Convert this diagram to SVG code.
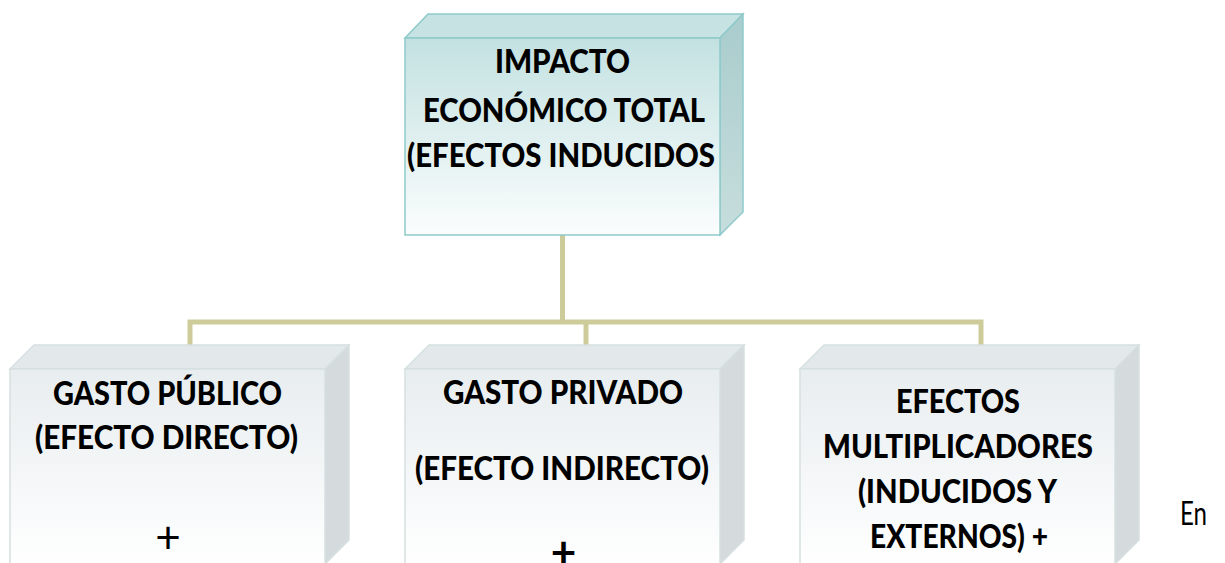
<svg xmlns="http://www.w3.org/2000/svg" width="1225" height="563" viewBox="0 0 1225 563">
<defs>
<linearGradient id="gTop" x1="0" y1="0" x2="0" y2="1">
<stop offset="0" stop-color="#c3e1e1"/><stop offset="1" stop-color="#fbfdfd"/>
</linearGradient>
<linearGradient id="gTopSide" x1="0" y1="0" x2="0" y2="1">
<stop offset="0" stop-color="#a9cccc"/><stop offset="1" stop-color="#c7dddd"/>
</linearGradient>
<linearGradient id="gBot" x1="0" y1="0" x2="0" y2="1">
<stop offset="0" stop-color="#e8edef"/><stop offset="1" stop-color="#ffffff"/>
</linearGradient>
<style>
.conn{fill:none;stroke:#cecb9b;stroke-width:5}
.tf{fill:url(#gTop);stroke:#8ecaca;stroke-width:1.5}
.tt{fill:#c6e2e2;stroke:#8ecaca;stroke-width:1.5}
.ts{fill:url(#gTopSide);stroke:#8ecaca;stroke-width:1.5}
.bf{fill:url(#gBot);stroke:#d6e0e0;stroke-width:1.5}
.bt{fill:#e3e9ea;stroke:#d6e0e0;stroke-width:1.5}
.bs{fill:#d5dbdc;stroke:#d6e0e0;stroke-width:1.5}
.lbl{font-family:Lato,"Open Sans","Liberation Sans",sans-serif;font-weight:900;font-size:33px;fill:#000;text-anchor:middle}
.plain{font-family:Lato,"Open Sans","Liberation Sans",sans-serif;font-size:33px;fill:#000}
.plus{font-family:Lato,"Open Sans","Liberation Sans",sans-serif;font-size:44px;fill:#000;text-anchor:middle}
</style>
</defs>
<rect width="1225" height="563" fill="#ffffff"/>
<g id="connectors">
<path class="conn" d="M562.5 235 V322 M190 346 V322 H981 V346 M586 322 V346"/>
</g>
<g id="node-total">
<polygon class="tt" points="405,38 428,14 743,14 720,38"/>
<polygon class="ts" points="720,38 743,14 743,212 720,235"/>
<rect class="tf" x="405" y="38" width="315" height="197"/>
<text class="lbl" x="562.5" y="73" textLength="135" lengthAdjust="spacingAndGlyphs">IMPACTO</text>
<text class="lbl" x="564" y="122" textLength="282" lengthAdjust="spacingAndGlyphs">ECONÓMICO TOTAL</text>
<text class="lbl" x="561" y="167" textLength="308" lengthAdjust="spacingAndGlyphs">(EFECTOS INDUCIDOS</text>
</g>
<g id="node-publico">
<polygon class="bt" points="10,369 34,345 349,345 325,369"/>
<polygon class="bs" points="325,369 349,345 349,540 325,564"/>
<rect class="bf" x="10" y="369" width="315" height="200"/>
<text class="lbl" x="167.5" y="405" textLength="229" lengthAdjust="spacingAndGlyphs">GASTO PÚBLICO</text>
<text class="lbl" x="166.5" y="449" textLength="263" lengthAdjust="spacingAndGlyphs">(EFECTO DIRECTO)</text>
<text class="plus" x="168" y="553">+</text>
</g>
<g id="node-privado">
<polygon class="bt" points="405,369 429,345 744,345 720,369"/>
<polygon class="bs" points="720,369 744,345 744,540 720,564"/>
<rect class="bf" x="405" y="369" width="315" height="200"/>
<text class="lbl" x="563" y="404" textLength="240" lengthAdjust="spacingAndGlyphs">GASTO PRIVADO</text>
<text class="lbl" x="562" y="480" textLength="294" lengthAdjust="spacingAndGlyphs">(EFECTO INDIRECTO)</text>
<text class="plus" x="563.5" y="568" font-weight="bold">+</text>
</g>
<g id="node-multiplicadores">
<polygon class="bt" points="800,369 824,345 1139,345 1115,369"/>
<polygon class="bs" points="1115,369 1139,345 1139,540 1115,564"/>
<rect class="bf" x="800" y="369" width="315" height="200"/>
<text class="lbl" x="958" y="413" textLength="124" lengthAdjust="spacingAndGlyphs">EFECTOS</text>
<text class="lbl" x="958" y="458" textLength="270" lengthAdjust="spacingAndGlyphs">MULTIPLICADORES</text>
<text class="lbl" x="957.5" y="503" textLength="199" lengthAdjust="spacingAndGlyphs">(INDUCIDOS Y</text>
<text class="lbl" x="959" y="548" textLength="178" lengthAdjust="spacingAndGlyphs">EXTERNOS) +</text>
</g>
<text class="plain" x="1180" y="525" textLength="27" lengthAdjust="spacingAndGlyphs">En</text>
</svg>
